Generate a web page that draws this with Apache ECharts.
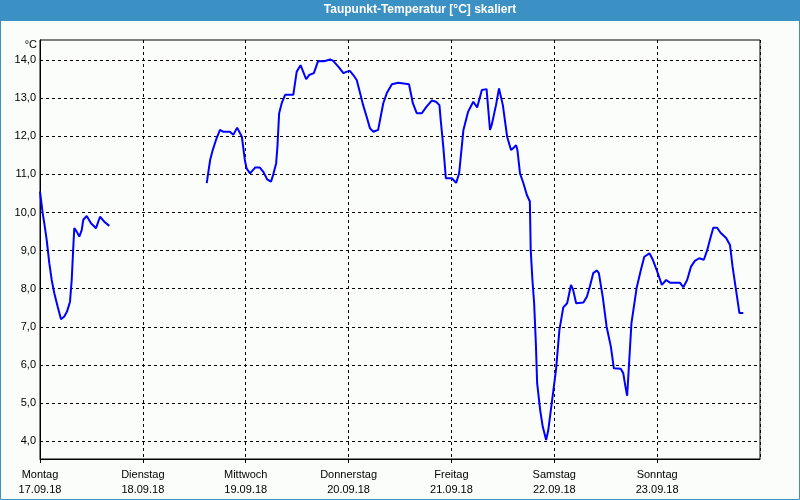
<!DOCTYPE html>
<html>
<head>
<meta charset="utf-8">
<script src="https://cdn.jsdelivr.net/npm/echarts@6/dist/echarts.min.js"></script>
<style>
html,body{margin:0;padding:0;background:#fbfdfb;}
#c{width:800px;height:500px;}
</style>
</head>
<body>
<div id="c"></div>
<script>
// ---- data ----
var titleText = 'Taupunkt-Temperatur [°C] skaliert';
var unitText = '°C';
var dayNames = ['Montag','Dienstag','Mittwoch','Donnerstag','Freitag','Samstag','Sonntag'];
var dayDates = ['17.09.18','18.09.18','19.09.18','20.09.18','21.09.18','22.09.18','23.09.18'];
var yTicks = [4,5,6,7,8,9,10,11,12,13,14];

// hours since Monday 17.09.18 00:00
var mondayHours = [0.0,0.63,1.0,1.56,2.17,2.73,3.34,4.13,4.9,5.67,6.3,7.0,7.4,7.77,8.0,8.56,9.17,9.73,10.1,10.9,11.9,13.07,14.0,15.0,16.17];
var mondayTemps = [10.55,9.98,9.72,9.28,8.67,8.23,7.88,7.53,7.20,7.27,7.40,7.66,8.23,9.10,9.59,9.50,9.37,9.54,9.81,9.91,9.72,9.59,9.89,9.76,9.65];

var laterHours = [38.9,39.7,40.3,41.2,42.0,42.8,44.3,45.1,46.0,47.1,47.8,48.2,49.0,50.2,51.3,52.1,53.0,53.9,54.4,55.1,55.4,55.8,56.4,57.2,59.1,59.9,60.8,61.4,62.1,62.8,63.9,64.9,66.0,66.5,67.7,68.4,69.6,70.8,71.6,72.3,73.1,73.9,74.7,75.4,76.2,77.0,77.8,78.9,79.5,80.1,80.9,82.1,83.6,86.1,87.0,87.9,89.1,90.2,91.4,92.4,93.2,93.5,94.1,94.7,96.1,97.1,97.8,98.8,99.9,101.1,102.0,103.1,104.2,105.0,105.4,106.4,107.1,108.0,109.0,109.9,110.4,111.1,111.4,112.0,112.8,113.6,114.3,114.5,114.9,115.3,115.7,116.0,116.7,117.3,118.1,118.6,119.4,120.4,121.2,122.1,123.0,123.9,124.4,125.1,126.8,127.6,128.3,129.1,129.9,130.4,131.3,132.2,133.2,133.9,135.5,136.1,136.6,137.0,137.5,138.0,139.2,140.2,141.0,142.2,143.0,143.9,144.7,145.1,146.1,147.0,149.3,150.1,151.0,151.9,152.8,153.8,154.9,155.7,156.3,157.1,158.0,158.8,160.1,161.0,161.6,162.4,163.2,164.1];
var laterTemps = [10.77,11.38,11.64,11.95,12.17,12.12,12.12,12.04,12.23,11.99,11.38,11.16,11.03,11.18,11.18,11.07,10.87,10.81,10.99,11.29,11.73,12.61,12.87,13.09,13.09,13.70,13.87,13.70,13.50,13.61,13.66,13.98,13.97,13.98,14.02,13.98,13.83,13.66,13.70,13.72,13.61,13.48,13.13,12.82,12.52,12.21,12.12,12.17,12.52,12.87,13.13,13.37,13.41,13.37,12.87,12.61,12.61,12.78,12.94,12.91,12.82,12.43,11.73,10.90,10.90,10.78,11.03,12.17,12.65,12.91,12.76,13.22,13.24,12.17,12.30,12.82,13.26,12.82,11.99,11.64,11.69,11.77,11.64,11.03,10.77,10.46,10.29,9.02,8.23,7.62,6.57,5.52,4.82,4.38,4.03,4.29,4.99,5.87,6.92,7.51,7.62,8.10,7.97,7.62,7.64,7.79,8.06,8.41,8.48,8.41,7.79,7.01,6.48,5.91,5.90,5.78,5.43,5.19,6.13,7.09,8.01,8.49,8.84,8.93,8.76,8.49,8.23,8.10,8.23,8.16,8.16,8.04,8.23,8.58,8.73,8.80,8.76,9.02,9.28,9.60,9.60,9.47,9.33,9.15,8.58,7.97,7.36,7.36];

function pairs(xs, ys){ return xs.map(function(x,i){ return [x, ys[i]]; }); }

var FONT = 'Liberation Sans';
var chart = echarts.init(document.getElementById('c'), null, {renderer:'canvas'});
var lineStyle = {color:'#0000ff', width:2};
chart.setOption({
  animation:false,
  backgroundColor:'#fbfdfb',
  graphic:[
    {type:'rect', shape:{x:0,y:0,width:800,height:21}, style:{fill:'#3c91c4'}, z:-1},
    {type:'rect', shape:{x:0.5,y:0.5,width:799,height:499}, style:{fill:null, stroke:'#3c91c4', lineWidth:1}, z:-1},
    {type:'text', x:420, y:10, style:{text:titleText, fill:'#ffffff', font:'bold 12px "'+FONT+'"', textAlign:'center', textVerticalAlign:'middle'}},
    {type:'text', x:37, y:45, style:{text:unitText, fill:'#000000', font:'11px "'+FONT+'"', textAlign:'right', textVerticalAlign:'middle'}}
  ],
  grid:{left:40, right:40, top:40, bottom:41, show:true, borderColor:'#000', borderWidth:1},
  xAxis:{
    type:'value', min:0, max:168, interval:24,
    axisLine:{show:true, lineStyle:{color:'#000', width:1}},
    axisTick:{show:true, length:4, lineStyle:{color:'#000'}},
    splitLine:{show:true, lineStyle:{color:'#000', type:[3,3], width:1}},
    axisLabel:{
      margin:8, color:'#000', fontFamily:FONT, fontSize:11, lineHeight:15,
      showMaxLabel:false,
      formatter:function(v){ var i=Math.round(v/24); return i<dayNames.length ? dayNames[i]+'\n'+dayDates[i] : ''; }
    }
  },
  yAxis:{
    type:'value', min:3.53, max:14.53,
    axisLine:{show:true, lineStyle:{color:'#000', width:1}},
    axisTick:{show:false, customValues:yTicks},
    splitLine:{show:true, lineStyle:{color:'#000', type:[3,3], width:1}},
    axisLabel:{
      customValues:yTicks, margin:4, color:'#000', fontFamily:FONT, fontSize:11,
      formatter:function(v){ return v.toFixed(1).replace('.', ','); }
    }
  },
  series:[
    {type:'line', data:pairs(mondayHours, mondayTemps), showSymbol:false, symbol:'none', lineStyle:lineStyle, itemStyle:{color:'#0000ff'}},
    {type:'line', data:pairs(laterHours, laterTemps), showSymbol:false, symbol:'none', lineStyle:lineStyle, itemStyle:{color:'#0000ff'}}
  ]
});
</script>
</body>
</html>
